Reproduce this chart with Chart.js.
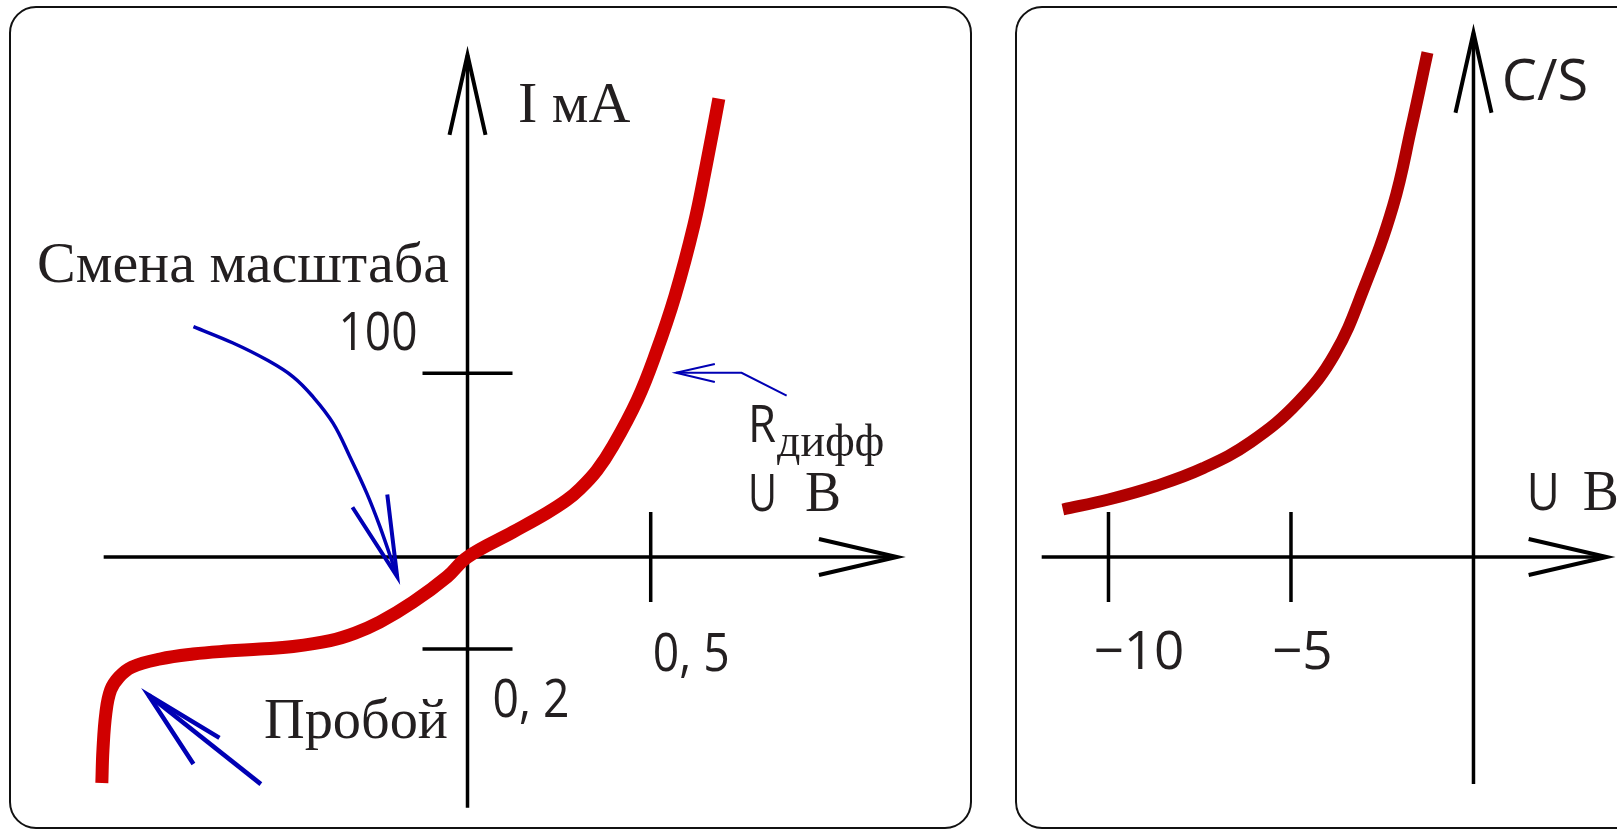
<!DOCTYPE html>
<html>
<head>
<meta charset="utf-8">
<script src="https://cdn.jsdelivr.net/npm/chart.js@4.4.1/dist/chart.umd.min.js"></script>
<style>
    html, body { margin:0; padding:0; background:#fff; overflow:hidden; width:1617px; height:829px; }
    .panel { position:absolute; box-sizing:border-box; border:2px solid #111; border-radius:27px; }
    canvas { position:absolute; }
</style>
</head>
<body>
<div class="panel" style="left:9px;top:6px;width:963px;height:823px"></div>
<div class="panel" style="left:1015px;top:6px;width:700px;height:823px"></div>
<canvas id="ivChart" width="957" height="817" style="left:12px;top:9px"></canvas>
<canvas id="capChart" width="599" height="817" style="left:1018px;top:9px"></canvas>
<script>
// вольт-амперная характеристика (U, В / I, мА в условных делениях схемы)
const ivU = [-0.998, -0.995, -0.987, -0.974, -0.951, -0.916, -0.839, -0.749, -0.656, -0.566, -0.476, -0.375, -0.307, -0.239, -0.149, -0.056, 0, 0.124, 0.216, 0.271, 0.307, 0.353, 0.397, 0.464, 0.514, 0.566, 0.618, 0.651, 0.686];
const ivI = [-123.0, -105.1, -84.9, -72.4, -65.3, -59.9, -55.5, -52.8, -51.2, -50.1, -48.7, -45.5, -41.4, -35.4, -24.6, -10.8, 0, 13.6, 23.9, 31.0, 37.1, 47.1, 60.4, 85.8, 110.9, 141.9, 180.8, 212.7, 249.5];
const ivXTicks = [0.5];
const ivXTickLabels = ['0, 5'];
const ivYTicks = [100, -50];
const ivYTickLabels = ['100', '0, 2'];

// вольт-фарадная характеристика C/S (отн. ед.)
const capU = [-11.25, -10.0, -8.7, -7.4, -6.1, -4.8, -3.8, -3.0, -2.2, -1.7, -1.26];
const capC = [9.5, 11.5, 14.2, 17.8, 23.0, 31.0, 40.6, 53.8, 70.3, 86.0, 100.9];
const capXTicks = [-10, -5];
const capXTickLabels = ['\u221210', '\u22125'];

// стрелки-подписи
const scaleArrowU = [-0.748, -0.640, -0.547, -0.476, -0.422, -0.367, -0.321, -0.275, -0.239, -0.192];
const scaleArrowI = [125.4, 116.5, 107.2, 98.1, 87.3, 72.9, 54.6, 34.8, 16.5, -10.7];
const scaleHeadU = [-0.314, -0.192, -0.219];
const scaleHeadI = [27.1, -10.7, 34.1];
const breakArrowU = [-0.564, -0.871];
const breakArrowI = [-123.6, -75.1];
const breakHeadU = [-0.677, -0.871, -0.748];
const breakHeadI = [-98.4, -75.1, -112.7];
const rdiffArrowU = [0.871, 0.748, 0.569];
const rdiffArrowI = [87.8, 100.3, 100.3];
const rdiffHeadU = [0.675, 0.569, 0.675];
const rdiffHeadI = [105.1, 100.3, 95.3];

const SERIF = '"Liberation Serif", "DejaVu Serif", serif';
const SANS = '"Open Sans", "Liberation Sans", sans-serif';
const INK = '#231f20';
const RED = '#d00000';
const DARKRED = '#b00000';
const BLUE = '#0000b4';

const pts = (xs, ys) => xs.map((v, i) => ({x: v, y: ys[i]}));

function curve(xs, ys, color, width, smooth) {
    return {
        data: pts(xs, ys),
        borderColor: color,
        borderWidth: width,
        pointRadius: 0,
        fill: false,
        tension: smooth ? 0.4 : 0,
        borderJoinStyle: smooth ? 'round' : 'miter',
        borderCapStyle: 'butt'
    };
}

// оси со стрелками, засечки и надписи
const schemePlugin = {
    id: 'scheme',
    beforeDatasetsDraw(chart, args, opts) {
        const {ctx, scales: {x, y}} = chart;
        const x0 = x.getPixelForValue(0);
        const y0 = y.getPixelForValue(0);
        const xa = x.getPixelForValue(opts.xFrom), xb = x.getPixelForValue(opts.xTo);
        const ya = y.getPixelForValue(opts.yFrom), yb = y.getPixelForValue(opts.yTo);
        ctx.save();
        ctx.strokeStyle = '#000';
        ctx.lineCap = 'butt';
        ctx.lineWidth = 3.5;
        ctx.beginPath();
        ctx.moveTo(xa, y0); ctx.lineTo(xb, y0);
        ctx.moveTo(x0, ya); ctx.lineTo(x0, yb);
        opts.xTicks.forEach(v => {
            const px = x.getPixelForValue(v);
            ctx.moveTo(px, y0 - 45); ctx.lineTo(px, y0 + 45);
        });
        opts.yTicks.forEach(v => {
            const py = y.getPixelForValue(v);
            ctx.moveTo(x0 - 45, py); ctx.lineTo(x0 + 45, py);
        });
        ctx.stroke();
        ctx.lineWidth = 4;
        ctx.lineJoin = 'miter';
        ctx.beginPath();
        ctx.moveTo(xb - 78, y0 - 18); ctx.lineTo(xb, y0); ctx.lineTo(xb - 78, y0 + 18);
        ctx.moveTo(x0 - 18, yb + 80); ctx.lineTo(x0, yb); ctx.lineTo(x0 + 18, yb + 80);
        ctx.stroke();
        ctx.restore();
    },
    afterDatasetsDraw(chart, args, opts) {
        const {ctx, scales: {x, y}} = chart;
        ctx.save();
        ctx.fillStyle = INK;
        ctx.textBaseline = 'alphabetic';
        opts.texts.forEach(t => {
            ctx.font = t.font;
            ctx.textAlign = t.align || 'left';
            ctx.fillText(t.text, x.getPixelForValue(t.x) + (t.dx || 0), y.getPixelForValue(t.y) + (t.dy || 0), t.maxWidth);
        });
        ctx.restore();
    }
};

const ivCtx = document.getElementById('ivChart');

new Chart(ivCtx, {
    type: 'line',
    data: {
        datasets: [
            curve(ivU, ivI, RED, 13, true),
            curve(scaleArrowU, scaleArrowI, BLUE, 3.5, true),
            curve(scaleHeadU, scaleHeadI, BLUE, 4, false),
            curve(breakArrowU, breakArrowI, BLUE, 4.5, false),
            curve(breakHeadU, breakHeadI, BLUE, 4.5, false),
            curve(rdiffArrowU, rdiffArrowI, BLUE, 2, false),
            curve(rdiffHeadU, rdiffHeadI, BLUE, 2, false)
        ]
    },
    options: {
        responsive: false,
        animation: false,
        events: [],
        layout: { padding: 0 },
        scales: {
            x: { type: 'linear', display: false, min: -1.2432, max: 1.3687 },
            y: { type: 'linear', display: false, min: -146.4, max: 298.3 }
        },
        plugins: {
            legend: { display: false },
            tooltip: { enabled: false },
            scheme: {
                xFrom: -0.993, xTo: 1.172,
                yFrom: -136.4, yTo: 273.3,
                xTicks: ivXTicks,
                yTicks: ivYTicks,
                texts: [
                    {text: ivXTickLabels[0], x: ivXTicks[0], y: 0, dx: 2, dy: 114, font: '53px ' + SANS, maxWidth: 77},
                    {text: ivYTickLabels[0], x: 0, y: ivYTicks[0], dx: -50, dy: -23, align: 'right', font: '53px ' + SANS, maxWidth: 79},
                    {text: ivYTickLabels[1], x: 0, y: ivYTicks[1], dx: 25, dy: 68, font: '53px ' + SANS, maxWidth: 77},
                    {text: 'I мА', x: 0.1378, y: 236.8, font: '58px ' + SERIF, maxWidth: 113},
                    {text: 'Смена масштаба', x: -1.175, y: 149.9, font: '58px ' + SERIF, maxWidth: 416},
                    {text: 'Пробой', x: -0.5554, y: -98.5, font: '58px ' + SERIF, maxWidth: 184},
                    {text: 'R', x: 0.7656, y: 62.8, font: '52px ' + SANS, maxWidth: 28},
                    {text: 'дифф', x: 0.8447, y: 55.0, font: '46px ' + SERIF, maxWidth: 113},
                    {text: 'U', x: 0.7656, y: 25.2, font: '52px ' + SANS, maxWidth: 29},
                    {text: 'В', x: 0.9211, y: 25.2, font: '58px ' + SERIF, maxWidth: 36}
                ]
            }
        }
    },
    plugins: [schemePlugin]
});

const capCtx = document.getElementById('capChart');

new Chart(capCtx, {
    type: 'line',
    data: {
        datasets: [
            curve(capU, capC, DARKRED, 12, true)
        ]
    },
    options: {
        responsive: false,
        animation: false,
        events: [],
        layout: { padding: 0 },
        scales: {
            x: { type: 'linear', display: false, min: -12.479, max: 3.932 },
            y: { type: 'linear', display: false, min: -53.8, max: 109.6 }
        },
        plugins: {
            legend: { display: false },
            tooltip: { enabled: false },
            scheme: {
                xFrom: -11.83, xTo: 3.649,
                yFrom: -45.4, yTo: 104.86,
                xTicks: capXTicks,
                yTicks: [],
                texts: [
                    {text: capXTickLabels[0], x: capXTicks[0], y: 0, dx: -15, dy: 112, font: '53px ' + SANS, maxWidth: 92},
                    {text: capXTickLabels[1], x: capXTicks[1], y: 0, dx: -19, dy: 112, font: '53px ' + SANS, maxWidth: 64},
                    {text: 'C/S', x: 0.773, y: 91.4, font: '56px ' + SANS, maxWidth: 91},
                    {text: 'U', x: 1.458, y: 9.4, font: '52px ' + SANS, maxWidth: 33},
                    {text: 'В', x: 2.992, y: 9.4, font: '58px ' + SERIF, maxWidth: 36}
                ]
            }
        }
    },
    plugins: [schemePlugin]
});
</script>
</body>
</html>
